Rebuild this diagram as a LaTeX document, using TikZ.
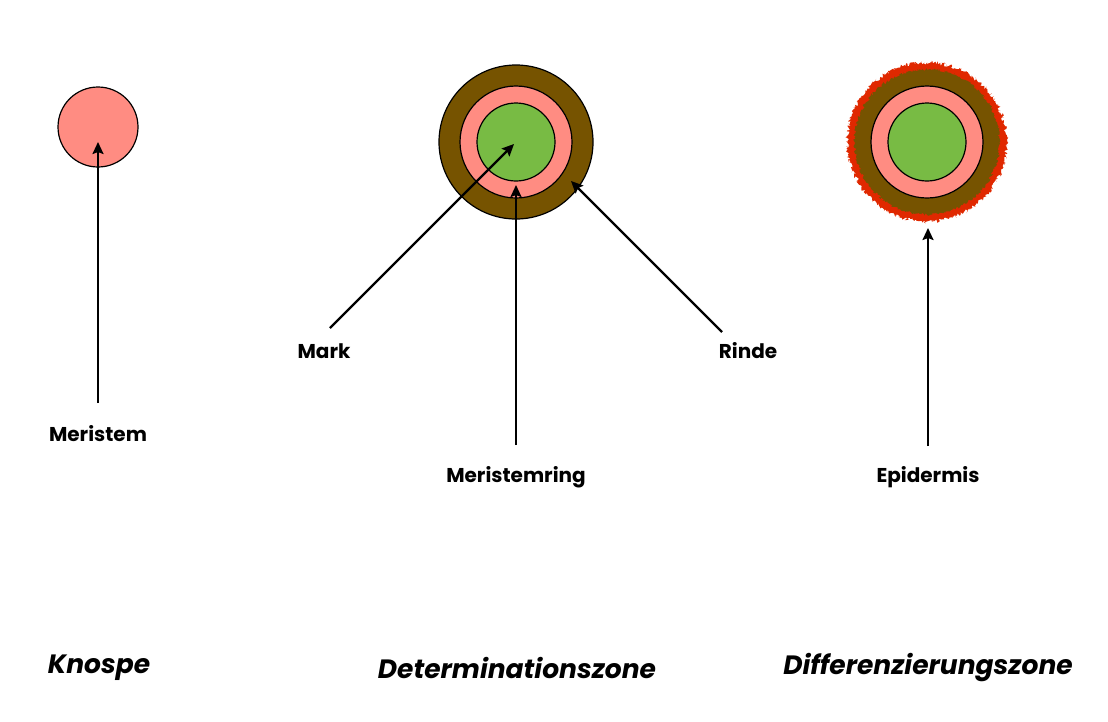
\documentclass[tikz,border=0pt]{standalone}
\usepackage{fontspec}
\setmainfont{Poppins}
\usetikzlibrary{arrows.meta,decorations.pathmorphing}
\definecolor{meristemrot}{HTML}{FF8C82}
\definecolor{markgruen}{HTML}{78BB44}
\definecolor{rindebraun}{HTML}{765300}
\definecolor{epirot}{HTML}{E02800}
\begin{document}
\begin{tikzpicture}[x=1pt,y=-1pt,>={Stealth[length=12pt,width=11pt,inset=2pt]},
    label/.style={font=\fontsize{20}{24}\selectfont\bfseries},
    zone/.style={font=\fontsize{26.5}{31}\selectfont\bfseries\itshape}]
    \useasboundingbox (0,0) rectangle (1108,721);
    % Knospe
    \filldraw [fill=meristemrot, line width=1.2pt] (98,127) circle (40);
    \coordinate (meristemT) at (98,142);
    \coordinate (meristemS) at (98,403);
    \node [label] (meristem) at (98,434) {Meristem};
    \draw [->, line width=2.2pt] (meristemS) -- (meristemT);
    % Determinationszone
    \filldraw [fill=rindebraun, line width=1.2pt] (516,142) circle (77);
    \filldraw [fill=meristemrot, line width=1.2pt] (516,142) circle (56);
    \filldraw [fill=markgruen, line width=1.2pt] (516,142) circle (39);
    \coordinate (markT) at (514,144);
    \coordinate (markS) at (330,328);
    \coordinate (ringT) at (516,185);
    \coordinate (ringS) at (516,445);
    \coordinate (rindeT) at (571,181);
    \coordinate (rindeS) at (722,332);
    \node [label] (mark) at (324,351) {Mark};
    \node [label] (ring) at (516,477) {Meristemring};
    \node [label] (rinde) at (748,351) {Rinde};
    \draw [->, line width=2.2pt] (markS) -- (markT);
    \draw [->, line width=2.2pt] (ringS) -- (ringT);
    \draw [->, line width=2.2pt] (rindeS) -- (rindeT);
    % Differenzierungszone
    \fill [epirot, decorate, decoration={random steps,segment length=1pt,amplitude=2pt}]
        (927,142) circle (79.5);
    \fill [rindebraun, decorate, decoration={random steps,segment length=1pt,amplitude=1.5pt}]
        (927,142) circle (72.5);
    \filldraw [fill=meristemrot, line width=1.2pt] (927,142) circle (56);
    \filldraw [fill=markgruen, line width=1.2pt] (927,142) circle (39);
    \coordinate (epiT) at (928,228);
    \coordinate (epiS) at (928,446);
    \node [label] (epi) at (928,477) {Epidermis};
    \draw [->, line width=2.2pt] (epiS) -- (epiT);
    % Zonen
    \node [zone] (knospe) at (99,668) {Knospe};
    \node [zone] (determ) at (517,668) {Determinationszone};
    \node [zone] (differ) at (928,668) {Differenzierungszone};
\end{tikzpicture}
\end{document}
